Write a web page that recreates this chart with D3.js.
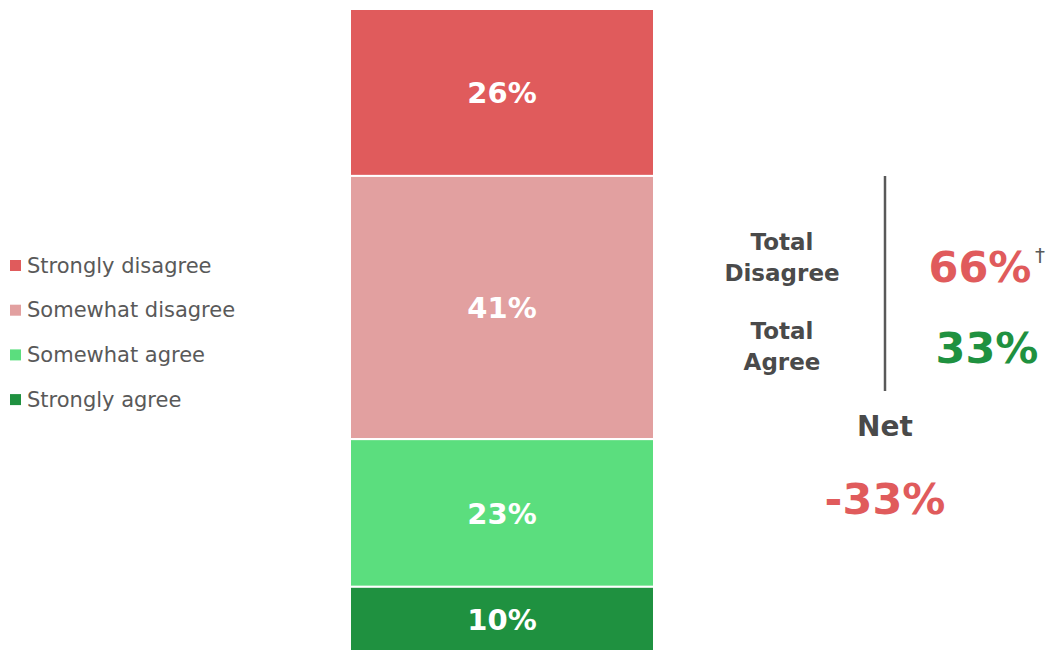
<!DOCTYPE html>
<html>
<head>
<meta charset="utf-8">
<script src="https://cdn.jsdelivr.net/npm/d3@7"></script>
<style>
  body { margin: 0; background: #fff; }
  svg { display: block; font-family: "DejaVu Sans", sans-serif; }
</style>
</head>
<body>
<svg width="1047" height="650"></svg>
<script>
var categories = ["Strongly disagree", "Somewhat disagree", "Somewhat agree", "Strongly agree"];
var values = [26, 41, 23, 10];
var colors = ["#e05b5c", "#e2a0a0", "#5bde7e", "#1f9140"];
var totalDisagree = 66, totalAgree = 33, net = -33;

var width = 1047, height = 650;
var svg = d3.select("svg");

// stack the segments top to bottom
var stacked = [];
var acc = 0;
values.forEach(function(v, i) {
  stacked.push({cat: categories[i], value: v, y0: acc, y1: acc + v, color: colors[i]});
  acc += v;
});

var y = d3.scaleLinear().domain([0, d3.sum(values)]).range([9, 651]);
var x = d3.scaleBand().domain(["all"]).range([350, 654]).padding(0);

var bars = svg.append("g");
bars.selectAll("rect")
  .data(stacked)
  .enter().append("rect")
    .attr("x", x("all"))
    .attr("width", x.bandwidth())
    .attr("y", function(d) { return y(d.y0); })
    .attr("height", function(d) { return y(d.y1) - y(d.y0); })
    .style("fill", function(d) { return d.color; })
    .style("stroke", "#fff")
    .style("stroke-width", 2);

bars.selectAll("text")
  .data(stacked)
  .enter().append("text")
    .attr("x", x("all") + x.bandwidth() / 2)
    .attr("y", function(d) { return (y(d.y0) + y(d.y1)) / 2 + 0.5; })
    .attr("dy", "0.36em")
    .attr("text-anchor", "middle")
    .style("fill", "#fff")
    .style("font-weight", "bold")
    .style("font-size", "29px")
    .text(function(d) { return d.value + "%"; });

// legend
var legend = svg.append("g").attr("transform", "translate(10,265)");
var lg = legend.selectAll("g")
  .data(stacked)
  .enter().append("g")
    .attr("transform", function(d, i) { return "translate(0," + (i * 44.7) + ")"; });
lg.append("rect")
  .attr("x", 0).attr("y", -5)
  .attr("width", 11).attr("height", 11)
  .style("fill", function(d) { return d.color; });
lg.append("text")
  .attr("x", 17)
  .attr("dy", "0.36em")
  .style("fill", "#595959")
  .style("font-size", "21px")
  .text(function(d) { return d.cat; });

// totals panel
var panel = svg.append("g");
panel.append("line")
  .attr("x1", 885).attr("x2", 885)
  .attr("y1", 176).attr("y2", 391)
  .style("stroke", "#595959")
  .style("stroke-width", 2.5);

function label(lines, cx, cy) {
  var t = panel.append("text")
    .attr("text-anchor", "middle")
    .style("fill", "#4a4a4a")
    .style("font-weight", "bold")
    .style("font-size", "23px");
  lines.forEach(function(s, i) {
    t.append("tspan").attr("x", cx).attr("y", cy + i * 31).text(s);
  });
}
label(["Total", "Disagree"], 782, 250);
label(["Total", "Agree"], 782, 339);

panel.append("text")
  .attr("x", 980).attr("y", 282)
  .attr("text-anchor", "middle")
  .style("fill", "#e05b5c")
  .style("font-weight", "bold")
  .style("font-size", "43px")
  .text(totalDisagree + "%");
panel.append("text")
  .attr("x", 1040).attr("y", 262)
  .attr("text-anchor", "middle")
  .style("fill", "#595959")
  .style("font-size", "20px")
  .text("\u2020");
panel.append("text")
  .attr("x", 987).attr("y", 363)
  .attr("text-anchor", "middle")
  .style("fill", "#1f9140")
  .style("font-weight", "bold")
  .style("font-size", "43px")
  .text(totalAgree + "%");

panel.append("text")
  .attr("x", 885).attr("y", 436)
  .attr("text-anchor", "middle")
  .style("fill", "#4a4a4a")
  .style("font-weight", "bold")
  .style("font-size", "28px")
  .text("Net");
panel.append("text")
  .attr("x", 885).attr("y", 514)
  .attr("text-anchor", "middle")
  .style("fill", "#e05b5c")
  .style("font-weight", "bold")
  .style("font-size", "43px")
  .text(net + "%");
</script>
</body>
</html>
